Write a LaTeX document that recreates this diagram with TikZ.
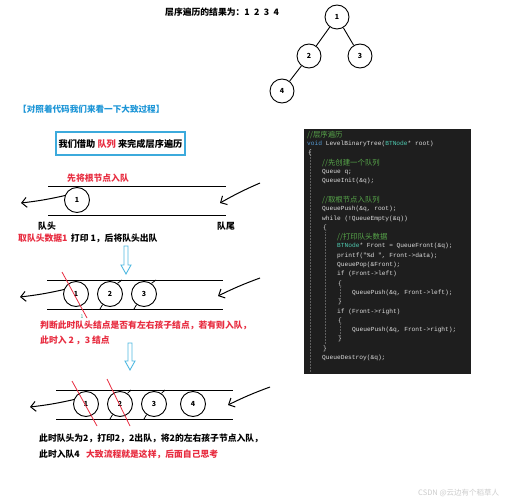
\documentclass[tikz,border=0pt]{standalone}
\usepackage{fontspec}
\setmainfont{Noto Sans CJK SC}
\newfontfamily\codefont{Liberation Mono}
\usetikzlibrary{arrows.meta,positioning}
\definecolor{hlred}{RGB}{232,44,64}
\definecolor{hlblue}{RGB}{30,150,215}
\definecolor{boxblue}{RGB}{60,170,220}
\definecolor{arrblue}{RGB}{80,185,225}
\definecolor{codebg}{RGB}{30,30,30}
\definecolor{cmt}{RGB}{87,166,74}
\definecolor{kw}{RGB}{86,156,214}
\definecolor{typ}{RGB}{78,201,176}
\definecolor{plain}{RGB}{220,220,220}
\definecolor{guide}{RGB}{95,95,95}
\definecolor{tinyteal}{RGB}{40,160,140}

\begin{document}
\begin{tikzpicture}[
	x=1pt,y=-1pt,
	txt/.style={anchor=west,inner sep=0pt,font=\bfseries\fontsize{8.8}{10}\selectfont},
	ball/.style={circle,draw,line width=0.9pt,minimum size=25pt,inner sep=0pt,font=\bfseries\fontsize{7}{8}\selectfont},
	pipe/.style={line width=1pt},
	flow/.style={line width=1pt,-{Straight Barb[length=5pt,width=10pt]}},
	cross/.style={hlred,line width=0.8pt},
	tick/.style={line width=0.8pt},
	down/.style={draw=arrblue,line width=0.9pt},
	code/.style={anchor=west,inner sep=0pt,text=plain,font=\codefont\fontsize{6.2}{7}\selectfont},
	note/.style={anchor=west,inner sep=0pt,text=cmt,font=\fontsize{7.4}{8}\selectfont}
]
\useasboundingbox[fill=white] (0,0) rectangle (532,500);
%\draw[step=10pt,black!10] (0,0) grid (532,500);

% result and tree
\node[txt] (title) at (165,12) {层序遍历的结果为：1\enspace 2\enspace 3\enspace 4};
\node[ball,minimum size=24pt] (t1) at (337,17) {1};
\node[ball,minimum size=24pt] (t2) at (309,56) {2};
\node[ball,minimum size=24pt] (t3) at (360,56) {3};
\node[ball,minimum size=24pt] (t4) at (282,91) {4};
\draw[line width=0.9pt] (t1) -- (t2) (t1) -- (t3) (t2) -- (t4);

\node[txt,text=hlblue,font=\bfseries\fontsize{8.6}{10}\selectfont] (hint) at (18,109) {【对照着代码我们来看一下大致过程】};
\node[draw=boxblue,line width=1.3pt,minimum width=129pt,minimum height=23pt,inner sep=0pt,font=\bfseries\fontsize{9.2}{10}\selectfont] (tip) at (120.5,143.5) {我们借助 \textcolor{hlred}{队列} 来完成层序遍历};

% queue 1
\node[txt,text=hlred] (push) at (67,178) {先将根节点入队};
\draw[pipe] (48,186) -- (226,186) (48,215) -- (226,215);
\node[ball] (qa1) at (77,200) {1};
\coordinate (qaout) at (21,203);
\coordinate (qain) at (260,183);
\coordinate (qaend) at (220,203);
\draw[flow] (qa1.160) to[bend left=3] (qaout);
\draw[flow] (qain) to[bend right=3] (qaend);
\node[txt] (head) at (38,226) {队头};
\node[txt] (tail) at (217,226) {队尾};
\node[txt,text=hlred] (take) at (18,238) {取队头数据1};
\node[txt,right=3pt of take] (print) {打印 1，后将队头出队};
\draw[down] (124,246) -- (128,246) -- (128,265) -- (131,265) -- (126,274) -- (121,265) -- (124,265) -- cycle;

% queue 2
\draw[pipe] (47,280) -- (223,280) (47,309) -- (223,309);
\node[ball] (qb1) at (76,294) {1};
\node[ball] (qb2) at (110,294) {2};
\node[ball] (qb3) at (144,294) {3};
\draw[tick] (qb2.55) -- (122,280) (qb2.235) -- (100,309) (qb3.55) -- (156,280) (qb3.235) -- (134,309);
\draw[cross] (62,272) -- (87,318);
\node[inner sep=0pt,text=tinyteal,font=\fontsize{5}{6}\selectfont] (mark1) at (82,317) {1};
\coordinate (qbout) at (20,297);
\coordinate (qbin) at (260,278);
\coordinate (qbend) at (218,296);
\draw[flow] (qb1.160) to[bend left=3] (qbout);
\draw[flow] (qbin) to[bend right=3] (qbend);
\node[txt,text=hlred] (judge) at (40,325) {判断此时队头结点是否有左右孩子结点，若有则入队，};
\node[txt,text=hlred] (judge2) at (40,340) {此时入 2 ，3 结点};
\draw[down] (128,343) -- (132,343) -- (132,361) -- (135,361) -- (130,370) -- (125,361) -- (128,361) -- cycle;

% queue 3
\draw[pipe] (56,390) -- (233,390) (56,419) -- (233,419);
\node[ball] (qc1) at (86,404) {1};
\node[ball] (qc2) at (120,404) {2};
\node[ball] (qc3) at (154,404) {3};
\node[ball] (qc4) at (193,404) {4};
\draw[tick] (qc2.55) -- (131,390) (qc2.235) -- (110,419) (qc3.55) -- (165,390) (qc3.235) -- (144,419);
\draw[cross] (72,381) -- (97,426) (107,379) -- (130,426);
\coordinate (qcout) at (30,407);
\coordinate (qcin) at (270,387);
\coordinate (qcend) at (228,405);
\draw[flow] (qc1.160) to[bend left=3] (qcout);
\draw[flow] (qcin) to[bend right=3] (qcend);
\node[txt] (step) at (39,438) {此时队头为2，打印2，2出队，将2的左右孩子节点入队，};
\node[txt] (step2) at (39,454) {此时入队4};
\node[txt,text=hlred,right=6pt of step2] (think) {大致流程就是这样，后面自己思考};

% code
\node[fill=codebg,anchor=north west,minimum width=167pt,minimum height=245pt,inner sep=0pt] (codebox) at (304,129) {};
\draw[guide,densely dotted,line width=0.5pt] (310,149) -- (310,372) (325,232) -- (325,344) (340,287) -- (340,298) (340,324) -- (340,335);
\node[note] (c1) at (307,134.7) {//层序遍历};
\node[code] (c2) at (307,144.0) {\textcolor{kw}{void} LevelBinaryTree(\textcolor{typ}{BTNode}* root)};
\node[code] (c3) at (308,153.3) {\{};
\node[note] (c4) at (322,162.6) {//先创建一个队列};
\node[code] (c5) at (322,171.9) {Queue q;};
\node[code] (c6) at (322,181.2) {QueueInit(\&q);};
\node[note] (c8) at (322,199.8) {//取根节点入队列};
\node[code] (c9) at (322,209.1) {QueuePush(\&q, root);};
\node[code] (c10) at (322,218.4) {while (!QueueEmpty(\&q))};
\node[code] (c11) at (323,227.7) {\{};
\node[note] (c12) at (337,237.0) {//打印队头数据};
\node[code] (c13) at (337,246.3) {\textcolor{typ}{BTNode}* Front = QueueFront(\&q);};
\node[code] (c14) at (337,255.6) {printf("\%d ", Front->data);};
\node[code] (c15) at (337,264.9) {QueuePop(\&Front);};
\node[code] (c16) at (337,274.2) {if (Front->left)};
\node[code] (c17) at (338,283.5) {\{};
\node[code] (c18) at (352,292.8) {QueuePush(\&q, Front->left);};
\node[code] (c19) at (338,302.1) {\}};
\node[code] (c20) at (337,311.4) {if (Front->right)};
\node[code] (c21) at (338,320.7) {\{};
\node[code] (c22) at (352,330.0) {QueuePush(\&q, Front->right);};
\node[code] (c23) at (338,339.3) {\}};
\node[code] (c24) at (323,348.6) {\}};
\node[code] (c25) at (322,357.9) {QueueDestroy(\&q);};

\node[anchor=west,inner sep=0pt,text=black!20,font=\fontsize{7.5}{9}\selectfont] (csdn) at (418,493) {CSDN @云边有个稻草人};
\end{tikzpicture}
\end{document}
